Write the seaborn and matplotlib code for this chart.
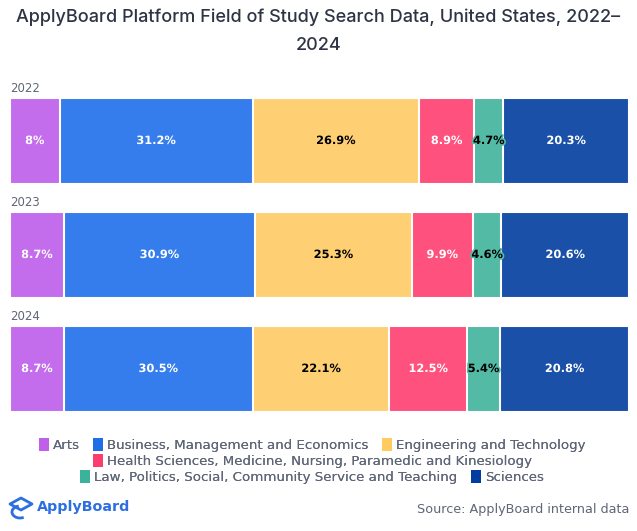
import matplotlib
matplotlib.use("Agg")
import matplotlib.pyplot as plt
import matplotlib.patheffects as pe
from matplotlib.patches import Patch, Polygon, Arc
import seaborn as sns
import pandas as pd
import numpy as np

years = ["2022", "2023", "2024"]
fields = [
    "Arts",
    "Business, Management and Economics",
    "Engineering and Technology",
    "Health Sciences, Medicine, Nursing, Paramedic and Kinesiology",
    "Law, Politics, Social, Community Service and Teaching",
    "Sciences",
]
arts = [8.0, 8.7, 8.7]
business = [31.2, 30.9, 30.5]
engineering = [26.9, 25.3, 22.1]
health = [8.9, 9.9, 12.5]
law = [4.7, 4.6, 5.4]
sciences = [20.3, 20.6, 20.8]

bar_colors = ["#C36CEC", "#357DEC", "#FED073", "#FE517D", "#52BAA5", "#1A50A8"]
legend_colors = ["#C060E8", "#1F6EE8", "#FFCB5E", "#FA3F6C", "#3BB39A", "#003DA0"]
label_colors = ["white", "white", "black", "white", "black", "white"]

series = [arts, business, engineering, health, law, sciences]
df = pd.DataFrame({"year": years})
for f, s in zip(fields, series):
    df[f] = s
cum = df[fields].cumsum(axis=1)

sns.set_theme(style="white")
plt.rcParams["font.family"] = ["DejaVu Sans"]

W, H = 637, 531
fig = plt.figure(figsize=(W / 100, H / 100), dpi=100)
ax = fig.add_axes([10 / W, 1 - 426 / H, 619 / W, 342 / H])

# draw from the last cumulative to the first so each segment shows
for i in range(len(fields) - 1, -1, -1):
    sns.barplot(data=cum.assign(year=years), x=fields[i], y="year", orient="h",
                color=bar_colors[i], width=0.754, edgecolor="white",
                linewidth=1.5, saturation=1, ax=ax)

ax.set_xlim(0, 100)
ax.set_ylim(2.5, -0.5)
ax.axis("off")

for j, yr in enumerate(years):
    ax.text(0, j - 0.377 - 0.03, yr, ha="left", va="bottom", fontsize=8.5,
            color="#5F6677")
    for i, f in enumerate(fields):
        v = df.loc[j, f]
        c = cum.loc[j, f] - v / 2
        lbl = f"{v:g}%"
        ax.text(c, j, lbl, ha="center", va="center", fontsize=8.2,
                fontweight="bold", color=label_colors[i],
                path_effects=[pe.withStroke(linewidth=2.5, foreground=bar_colors[i])])

fig.text(0.5, 1 - 17 / H, "ApplyBoard Platform Field of Study Search Data, United States, 2022–",
         ha="center", va="center", fontsize=13.0, color="#2E3444", family="Inter",
         fontweight="medium")
fig.text(0.5, 1 - 46 / H, "2024", ha="center", va="center", fontsize=13.0,
         color="#2E3444", family="Inter", fontweight="medium")

rows = [[0, 1, 2], [3], [4, 5]]
row_y = [445, 461, 477]
for r, yy in zip(rows, row_y):
    handles = [Patch(facecolor=legend_colors[k], edgecolor="none") for k in r]
    labels = [fields[k] for k in r]
    leg = fig.legend(handles, labels, loc="center", bbox_to_anchor=(0.49, 1 - yy / H),
                     ncol=len(r), frameon=False, fontsize=9.6, handlelength=0.75,
                     handleheight=1.1, handletextpad=0.3, columnspacing=1.0,
                     borderpad=0, borderaxespad=0)
    for t in leg.get_texts():
        t.set_color("#5F6677")
    fig.add_artist(leg)

# ApplyBoard logo: simple cap icon + wordmark
blue = "#2B6FE0"
cap = Polygon([(10 / W, 1 - 504 / H), (21 / W, 1 - 498 / H), (32 / W, 1 - 504 / H),
               (21 / W, 1 - 510 / H)], closed=True, fill=False, edgecolor=blue,
              linewidth=2, transform=fig.transFigure, joinstyle="round")
fig.add_artist(cap)
arc = Arc((20 / W, 1 - 512 / H), 16 / W, 12 / H, theta1=100, theta2=300,
          edgecolor=blue, linewidth=2, transform=fig.transFigure)
fig.add_artist(arc)
fig.text(37 / W, 1 - 507 / H, "ApplyBoard", ha="left", va="center", fontsize=10.3,
         fontweight="bold", color=blue)
fig.text(629 / W, 1 - 509 / H, "Source: ApplyBoard internal data", ha="right",
         va="center", fontsize=9.2, color="#5F6677")

fig.savefig("out.png", dpi=100)
